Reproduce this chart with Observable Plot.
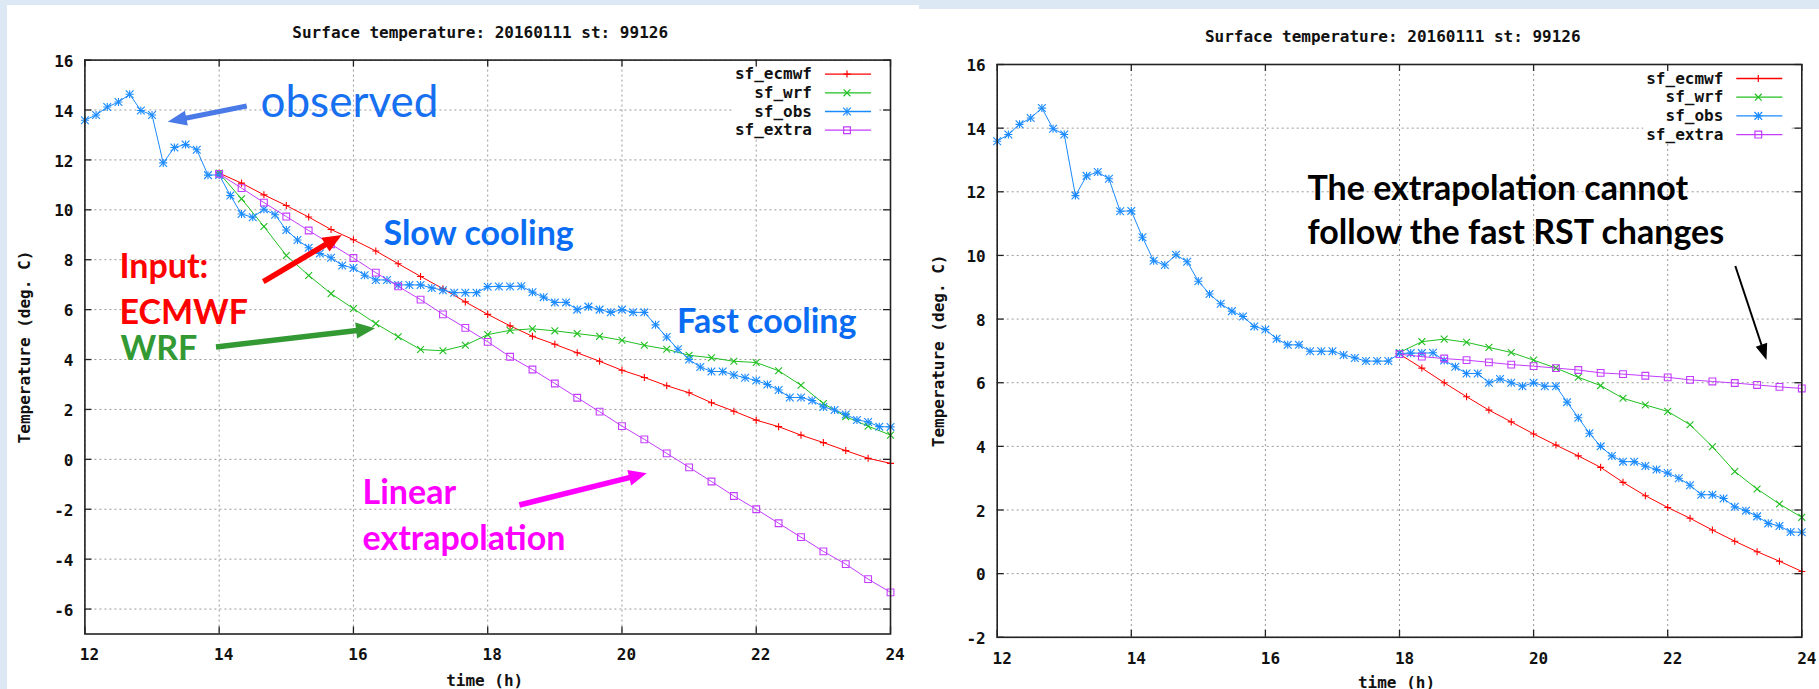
<!DOCTYPE html>
<html><head><meta charset="utf-8">
<script src="https://cdn.jsdelivr.net/npm/d3@7"></script>
<script src="https://cdn.jsdelivr.net/npm/@observablehq/plot@0.6"></script>
<style>
html,body{margin:0;padding:0;background:#dde8f5;}
#page{position:relative;width:1819px;height:689px;overflow:hidden;background:#dde8f5;}
#left{position:absolute;left:7px;top:5px;width:912px;height:684px;background:#fff;}
#right{position:absolute;left:919px;top:9px;width:900px;height:680px;background:#fff;}
#left svg,#right svg{display:block;max-width:none;}
</style></head><body>
<div id="page"><div id="left"></div><div id="right"></div></div>
<script>
// ---------- texts & ticks ----------
const titleText = "Surface temperature: 20160111 st: 99126";
const xLabel = "time (h)";
const yLabel = "Temperature (deg. C)";
const seriesNames = ["sf_ecmwf", "sf_wrf", "sf_obs", "sf_extra"];
const xTicks = [12, 14, 16, 18, 20, 22, 24];
const yTicksLeft = [-6, -4, -2, 0, 2, 4, 6, 8, 10, 12, 14, 16];
const yTicksRight = [-2, 0, 2, 4, 6, 8, 10, 12, 14, 16];

// ---------- data ----------
const obsTimes = [
"12:00","12:10","12:20","12:30","12:40","12:50",
"13:00","13:10","13:20","13:30","13:40","13:50",
"14:00","14:10","14:20","14:30","14:40","14:50",
"15:00","15:10","15:20","15:30","15:40","15:50",
"16:00","16:10","16:20","16:30","16:40","16:50",
"17:00","17:10","17:20","17:30","17:40","17:50",
"18:00","18:10","18:20","18:30","18:40","18:50",
"19:00","19:10","19:20","19:30","19:40","19:50",
"20:00","20:10","20:20","20:30","20:40","20:50",
"21:00","21:10","21:20","21:30","21:40","21:50",
"22:00","22:10","22:20","22:30","22:40","22:50",
"23:00","23:10","23:20","23:30","23:40","23:50",
"24:00"];
const obsTemp = [
13.59, 13.80, 14.12, 14.32, 14.63, 13.98,
13.80, 11.88, 12.50, 12.62, 12.41, 11.39,
11.40, 10.57, 9.83, 9.70, 10.02, 9.80,
9.19, 8.79, 8.48, 8.25, 8.08, 7.77,
7.67, 7.38, 7.19, 7.19, 6.99, 6.99,
6.99, 6.87, 6.78, 6.68, 6.68, 6.68,
6.92, 6.93, 6.93, 6.94, 6.70, 6.50,
6.29, 6.29, 6.00, 6.12, 6.00, 5.89,
6.00, 5.89, 5.89, 5.39, 4.90, 4.41,
4.00, 3.70, 3.52, 3.52, 3.38, 3.27,
3.16, 3.00, 2.78, 2.48, 2.48, 2.36,
2.10, 1.98, 1.80, 1.58, 1.50, 1.31,
1.30];

// left panel: forecasts from 14 h
const modelTimesA = ["14:00","14:20","14:40","15:00","15:20","15:40","16:00","16:20","16:40",
"17:00","17:20","17:40","18:00","18:20","18:40","19:00","19:20","19:40","20:00","20:20","20:40",
"21:00","21:20","21:40","22:00","22:20","22:40","23:00","23:20","23:40","24:00"];
const ecmwfA = [11.47, 11.07, 10.60, 10.17, 9.71, 9.21, 8.80, 8.35, 7.84, 7.33, 6.84, 6.31, 5.81,
5.35, 4.93, 4.61, 4.27, 3.93, 3.57, 3.28, 2.95, 2.67, 2.27, 1.93, 1.57, 1.31, 0.97, 0.67, 0.35, 0.04, -0.16];
const wrfA = [11.47, 10.44, 9.33, 8.17, 7.37, 6.64, 6.04, 5.44, 4.91, 4.40, 4.35, 4.57, 5.00,
5.17, 5.23, 5.15, 5.04, 4.93, 4.77, 4.57, 4.41, 4.17, 4.07, 3.93, 3.88, 3.55, 2.97, 2.24, 1.71, 1.33, 0.97];
const extraA = [11.44, 10.87, 10.29, 9.73, 9.17, 8.62, 8.07, 7.48, 6.93, 6.40, 5.81, 5.27, 4.71,
4.11, 3.60, 3.04, 2.47, 1.91, 1.33, 0.80, 0.24, -0.32, -0.89, -1.47, -2.00, -2.56, -3.12, -3.69, -4.20, -4.80, -5.33];

// right panel: forecasts from 18 h
const modelTimesB = ["18:00","18:20","18:40","19:00","19:20","19:40","20:00","20:20","20:40",
"21:00","21:20","21:40","22:00","22:20","22:40","23:00","23:20","23:40","24:00"];
const ecmwfB = [6.90, 6.46, 6.00, 5.56, 5.14, 4.77, 4.39, 4.04, 3.70, 3.34, 2.87, 2.45, 2.08, 1.74, 1.37, 1.02, 0.69, 0.39, 0.07];
const wrfB = [6.95, 7.29, 7.37, 7.27, 7.11, 6.95, 6.71, 6.46, 6.17, 5.91, 5.51, 5.30, 5.10, 4.68, 3.99, 3.21, 2.66, 2.19, 1.77];
const extraB = [6.90, 6.82, 6.76, 6.71, 6.64, 6.57, 6.52, 6.46, 6.40, 6.31, 6.27, 6.22, 6.17, 6.09, 6.04, 5.99, 5.93, 5.87, 5.82];

// ---------- annotations (data coordinates of the text baseline / arrow ends) ----------
const notesLeft = [
  {text: "observed", at: [14.616, 13.70], color: "#1770f0", size: 44, weight: "normal"},
  {text: "Slow cooling", at: [16.448, 8.57], color: "#0a6cf2", size: 34, weight: "bold"},
  {text: "Input:", at: [12.515, 7.27], color: "#ff0000", size: 34, weight: "bold"},
  {text: "ECMWF", at: [12.515, 5.42], color: "#ff0000", size: 34, weight: "bold"},
  {text: "WRF", at: [12.530, 4.00], color: "#339933", size: 34, weight: "bold"},
  {text: "Fast cooling", at: [20.82, 5.06], color: "#0a6cf2", size: 34, weight: "bold"},
  {text: "Linear", at: [16.135, -1.81], color: "#ff00ff", size: 34, weight: "bold"},
  {text: "extrapolation", at: [16.135, -3.63], color: "#ff00ff", size: 34, weight: "bold"}
];
const arrowsLeft = [
  {from: [14.418, 14.14], to: [13.241, 13.51], color: "#4a7ae8", width: 5, head: 19, half: 7.5},
  {from: [14.665, 7.10], to: [15.833, 8.97], color: "#ff0000", width: 5.5, head: 19, half: 8},
  {from: [13.960, 4.48], to: [16.329, 5.23], color: "#339933", width: 5.5, head: 19, half: 8},
  {from: [18.479, -1.85], to: [20.376, -0.58], color: "#ff00ff", width: 5.5, head: 18, half: 8}
];
const notesRight = [
  {text: "The extrapolation cannot", at: [16.628, 11.727], color: "#000000", size: 34, weight: "bold"},
  {text: "follow the fast RST changes", at: [16.628, 10.345], color: "#000000", size: 34, weight: "bold"}
];
const arrowsRight = [
  {from: [23.016, 9.654], to: [23.481, 6.70], color: "#000000", width: 2, head: 16, half: 6}
];

// ---------- styles ----------
const seriesStyle = {
  sf_ecmwf: {color: "#ff0000", marks: [["plus", 2.4]]},
  sf_wrf:   {color: "#20c020", marks: [["times", 3.2]]},
  sf_obs:   {color: "#1a8aff", marks: [["plus", 2.7], ["times", 3.6]]},
  sf_extra: {color: "#c33cff", marks: [["square2", 4.3]]}
};
const symbolOf = {plus: d3.symbolPlus, times: d3.symbolTimes, square2: d3.symbolSquare2};

const parseTime = s => { const [h, m] = s.split(":").map(Number); return h + m / 60; };
const rows = (times, vals) => times.map((t, i) => ({time: parseTime(t), temp: vals[i]}));

function legendMark() {
  return (index, scales, values, dims) => {
    const R = dims.width - dims.marginRight, T = dims.marginTop;
    const g = d3.create("svg:g");
    g.append("rect").attr("x", R - 158).attr("y", T + 3).attr("width", 146).attr("height", 76).attr("fill", "#fff");
    seriesNames.forEach((name, i) => {
      const st = seriesStyle[name];
      const y = T + 14.5 + i * 18.7;
      g.append("text").attr("x", R - 78).attr("y", y).attr("dy", "0.32em")
        .attr("text-anchor", "end").attr("fill", "#111").text(name);
      g.append("line").attr("x1", R - 65).attr("x2", R - 19).attr("y1", y).attr("y2", y)
        .attr("stroke", st.color).attr("stroke-width", 1.3);
      st.marks.forEach(([s, r]) => g.append("path")
        .attr("transform", `translate(${R - 43},${y})`)
        .attr("d", d3.symbol(symbolOf[s], Math.PI * r * r)())
        .attr("fill", "none").attr("stroke", st.color).attr("stroke-width", 1.2));
    });
    return g.node();
  };
}

function arrowsMark(list) {
  return (index, scales) => {
    const g = d3.create("svg:g");
    for (const a of list) {
      const x1 = scales.x(a.from[0]), y1 = scales.y(a.from[1]);
      const x2 = scales.x(a.to[0]), y2 = scales.y(a.to[1]);
      const L = Math.hypot(x2 - x1, y2 - y1), ux = (x2 - x1) / L, uy = (y2 - y1) / L;
      const bx = x2 - ux * a.head, by = y2 - uy * a.head;
      g.append("line").attr("x1", x1).attr("y1", y1).attr("x2", bx + ux).attr("y2", by + uy)
        .attr("stroke", a.color).attr("stroke-width", a.width);
      g.append("path").attr("d",
        `M${x2},${y2}L${bx - uy * a.half},${by + ux * a.half}L${bx + uy * a.half},${by - ux * a.half}Z`)
        .attr("fill", a.color);
    }
    return g.node();
  };
}

function panel(cfg) {
  const W = cfg.width - cfg.mL - cfg.mR, H = cfg.height - cfg.mT - cfg.mB;
  const seriesData = {
    sf_ecmwf: rows(cfg.modelTimes, cfg.ecmwf),
    sf_wrf: rows(cfg.modelTimes, cfg.wrf),
    sf_obs: rows(obsTimes, obsTemp),
    sf_extra: rows(cfg.modelTimes, cfg.extra)
  };
  const gridStyle = {stroke: "#999", strokeOpacity: 1, strokeWidth: 1, strokeDasharray: "2,3"};
  const marks = [
    Plot.gridX(xTicks, gridStyle),
    Plot.gridY(cfg.yTicks, gridStyle)
  ];
  for (const name of seriesNames) {
    const st = seriesStyle[name];
    marks.push(Plot.line(seriesData[name], {x: "time", y: "temp", stroke: st.color, strokeWidth: 1}));
    for (const [s, r] of st.marks) {
      marks.push(Plot.dot(seriesData[name], {x: "time", y: "temp", symbol: s, r, fill: "none", stroke: st.color, strokeWidth: 1.1}));
    }
  }
  marks.push(
    legendMark(),
    Plot.frame({stroke: "#222", strokeWidth: 1.6}),
    Plot.tickX(xTicks, {x: d => d, stroke: "#222", strokeWidth: 1.3, insetTop: H - 7}),
    Plot.tickX(xTicks, {x: d => d, stroke: "#222", strokeWidth: 1.3, insetBottom: H - 7}),
    Plot.tickY(cfg.yTicks, {y: d => d, stroke: "#222", strokeWidth: 1.3, insetRight: W - 7}),
    Plot.tickY(cfg.yTicks, {y: d => d, stroke: "#222", strokeWidth: 1.3, insetLeft: W - 7}),
    Plot.axisX({ticks: xTicks, tickSize: 0, tickPadding: cfg.xPad, dx: cfg.xDx, tickFormat: d => String(d), label: null, fill: "#111"}),
    Plot.axisY({ticks: cfg.yTicks, tickSize: 0, tickPadding: 11.5, dy: 1.5, tickFormat: d => String(d), label: null, fill: "#111"}),
    Plot.text([titleText], {frameAnchor: "top", lineAnchor: "middle", textAnchor: "middle", dy: cfg.titleDy, dx: cfg.titleDx, fill: "#111"}),
    Plot.text([xLabel], {frameAnchor: "bottom", lineAnchor: "middle", textAnchor: "middle", dy: cfg.xLabelDy, dx: -3, fill: "#111"}),
    Plot.text([yLabel], {frameAnchor: "left", lineAnchor: "middle", textAnchor: "middle", rotate: -90, dx: cfg.yLabelDx, fill: "#111"})
  );
  for (const n of cfg.notes) {
    marks.push(Plot.text([n.text], {x: () => n.at[0], y: () => n.at[1], text: d => d, textAnchor: "start", lineAnchor: "bottom",
      fill: n.color, fontFamily: "Lato, 'Open Sans', sans-serif", fontSize: n.size, fontWeight: n.weight}));
  }
  marks.push(arrowsMark(cfg.arrows));
  return Plot.plot({
    width: cfg.width, height: cfg.height,
    marginLeft: cfg.mL, marginRight: cfg.mR, marginTop: cfg.mT, marginBottom: cfg.mB,
    x: {domain: [12, 24]},
    y: {domain: cfg.yDomain},
    style: {background: "#fff", fontFamily: "'DejaVu Sans Mono', monospace", fontSize: "16px", fontWeight: "bold", color: "#111"},
    marks
  });
}

document.getElementById("left").append(panel({
  width: 912, height: 684, mL: 77.4, mR: 29, mT: 54.6, mB: 55.5,
  yDomain: [-7, 16], yTicks: yTicksLeft,
  modelTimes: modelTimesA, ecmwf: ecmwfA, wrf: wrfA, extra: extraA,
  xPad: 14.5, xDx: 4.5, titleDy: -27.6, titleDx: -7.5, xLabelDy: 46.5, yLabelDx: -59.8,
  notes: notesLeft, arrows: arrowsLeft
}));
document.getElementById("right").append(panel({
  width: 900, height: 680, mL: 77.7, mR: 17.7, mT: 55, mB: 52.2,
  yDomain: [-2, 16], yTicks: yTicksRight,
  modelTimes: modelTimesB, ecmwf: ecmwfB, wrf: wrfB, extra: extraB,
  xPad: 15.4, xDx: 5, titleDy: -28, titleDx: -6.7, xLabelDy: 45.5, yLabelDx: -58.4,
  notes: notesRight, arrows: arrowsRight
}));
</script>
</body></html>
